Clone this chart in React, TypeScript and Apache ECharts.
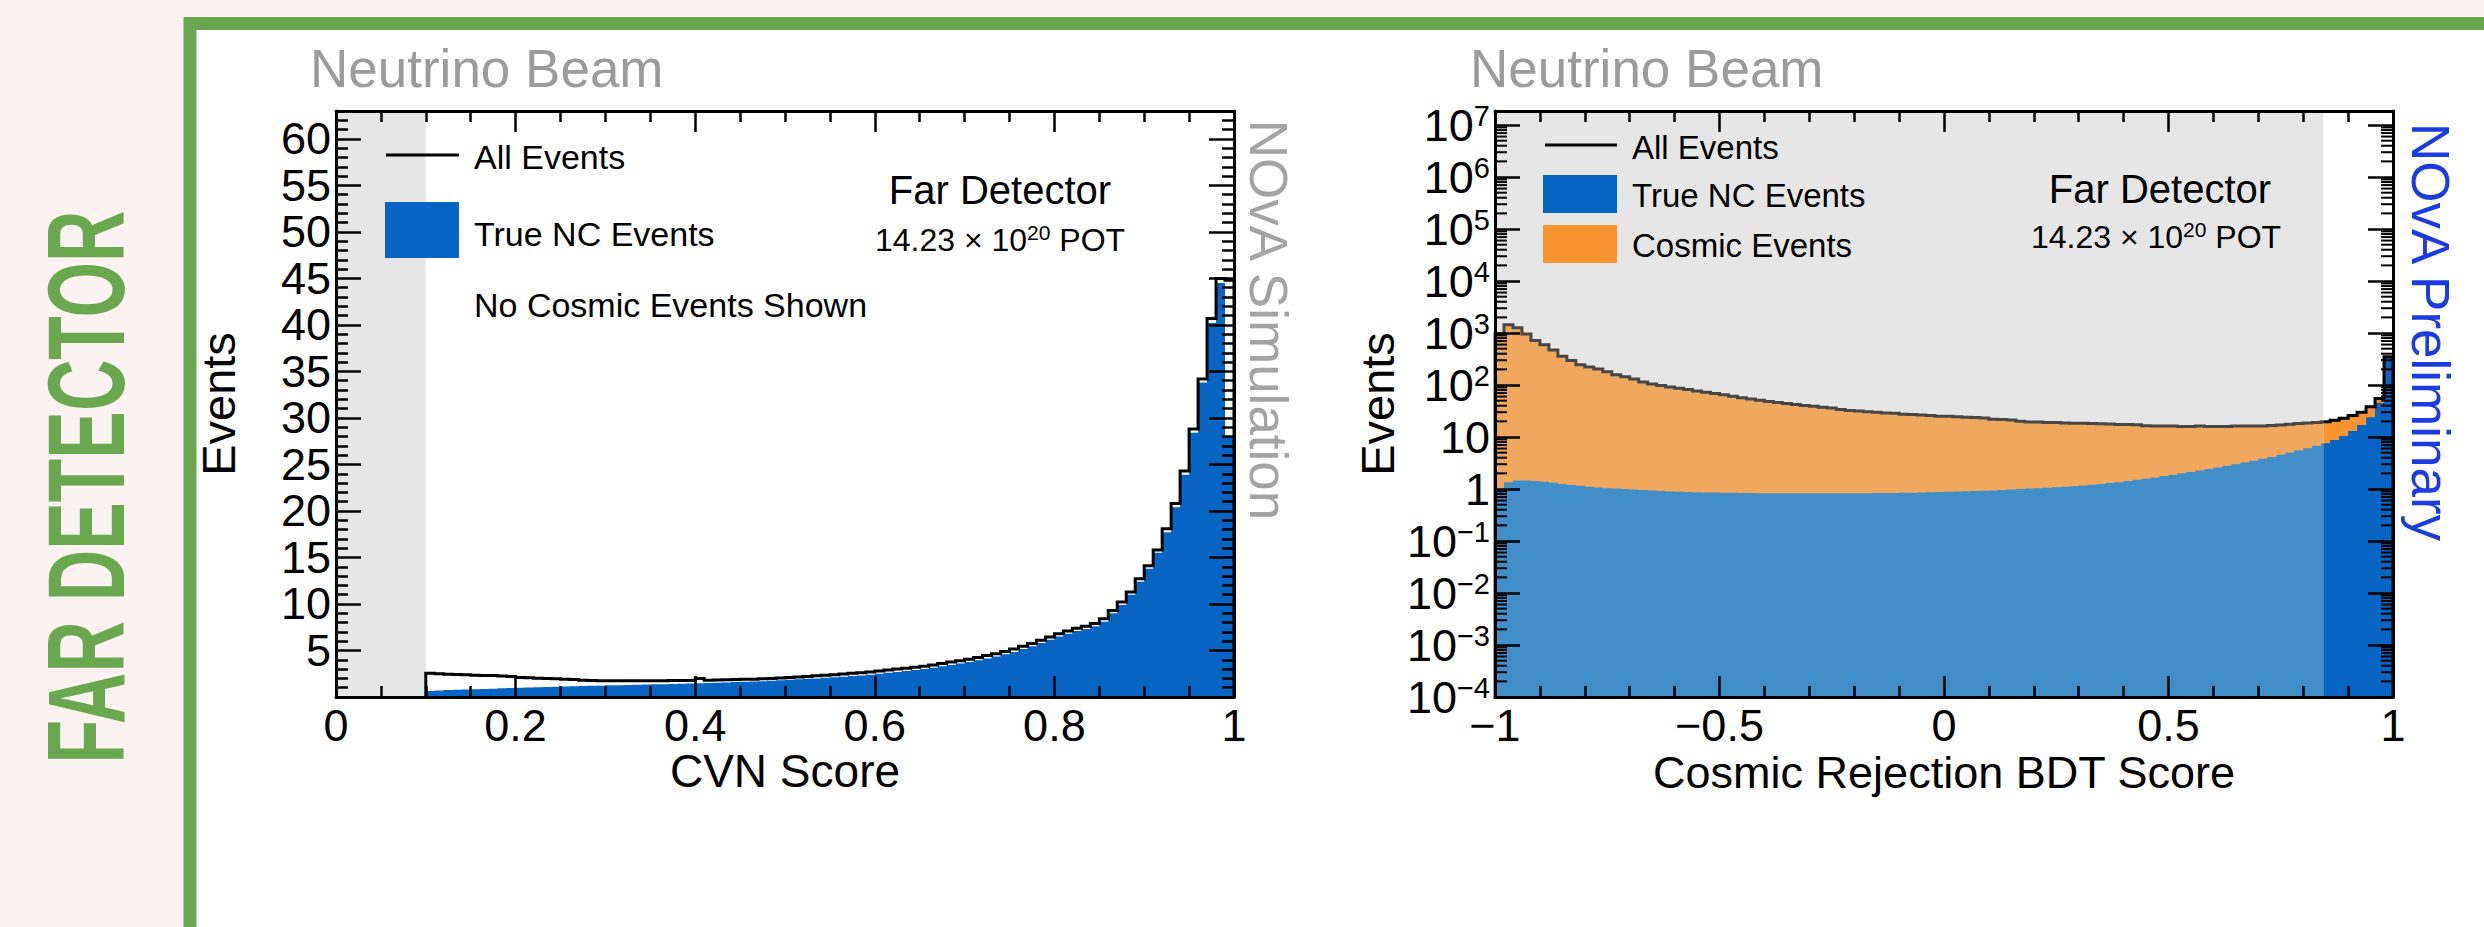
import React, { useEffect, useRef } from 'react';
import * as echarts from 'echarts';

const FONT = '"Liberation Sans", Arial, Helvetica, sans-serif';

// ---------------- Left panel: CVN score (linear y) ----------------
const cvnBinStart = 0.1;
const cvnBinWidth = 0.01;
const cvnCutEnd = 0.1; // grey (removed) region 0 - 0.1
const cvnYMax = 63;
const cvnXTickInterval = 0.2;
const cvnYTickInterval = 5;
// bins 0.10 ... 0.99
const cvnAllEvents = [
  2.55, 2.5, 2.45, 2.42, 2.4, 2.35, 2.32, 2.3, 2.25, 2.2,
  2.1, 2.06, 2.02, 2.0, 1.96, 1.92, 1.88, 1.8, 1.78, 1.76,
  1.75, 1.75, 1.74, 1.75, 1.75, 1.76, 1.76, 1.77, 1.78, 1.78,
  1.98, 1.8, 1.82, 1.86, 1.88, 1.9, 1.92, 1.95, 1.98, 2.05,
  2.1, 2.15, 2.2, 2.28, 2.35, 2.4, 2.48, 2.55, 2.62, 2.7,
  2.8, 2.9, 3.0, 3.1, 3.2, 3.3, 3.45, 3.6, 3.75, 3.9,
  4.05, 4.25, 4.45, 4.65, 4.9, 5.15, 5.45, 5.75, 6.1, 6.45,
  6.8, 7.1, 7.4, 7.6, 7.9, 8.4, 9.3, 10.2, 11.3, 12.7,
  14.1, 15.8, 18.1, 20.8, 24.3, 28.8, 34.2, 40.7, 45.0, 44.8,
];
const cvnTrueNC = [
  0.65, 0.7, 0.75, 0.78, 0.8, 0.83, 0.86, 0.9, 0.93, 0.96,
  1.0, 1.03, 1.05, 1.08, 1.1, 1.12, 1.15, 1.18, 1.2, 1.22,
  1.25, 1.27, 1.3, 1.32, 1.34, 1.36, 1.38, 1.4, 1.42, 1.44,
  1.47, 1.5, 1.53, 1.56, 1.6, 1.63, 1.66, 1.7, 1.74, 1.8,
  1.85, 1.9, 1.95, 2.0, 2.06, 2.12, 2.18, 2.25, 2.32, 2.4,
  2.5, 2.6, 2.7, 2.8, 2.9, 3.0, 3.15, 3.3, 3.45, 3.6,
  3.75, 3.95, 4.15, 4.35, 4.6, 4.85, 5.15, 5.45, 5.8, 6.15,
  6.5, 6.8, 7.1, 7.3, 7.6, 8.1, 9.0, 9.9, 11.0, 12.4,
  13.8, 15.5, 17.7, 20.4, 23.9, 28.4, 33.8, 40.2, 44.5, 28,
];

// ---------------- Right panel: cosmic rejection BDT (log y) ----------------
const bdtBinStart = -1;
const bdtBinWidth = 0.02;
const bdtCut = 0.845; // grey region -1 ... cut
const bdtYMinExp = -4;
const bdtYMaxExp = 7.27;
const bdtXTickInterval = 0.5;
const logMinorMultipliers = [2, 3, 4, 5, 6, 7, 8, 9];
// bins -1.00 ... 0.98
const bdtAllEvents = [
  960, 1440, 1260, 960, 720, 595, 474, 359, 297, 246,
  222, 203, 179, 158, 144, 131, 114, 105, 98, 92,
  87, 82, 77, 73, 69, 65, 61, 57, 54, 51,
  48, 46, 44, 42, 40.5, 39, 37.5, 36, 34, 32.5,
  31.5, 30.5, 29.8, 29, 28.5, 27.5, 27, 26.5, 25.8, 25.2,
  25, 24.5, 24, 23.7, 23.3, 22, 21.7, 21.2, 20, 19.5,
  19.5, 19, 19, 18.7, 18.5, 18.4, 18.2, 18, 17.7, 17.5,
  17.5, 17.2, 16.5, 16.2, 16.2, 16.2, 16.0, 16.0, 16.2, 16.0,
  16.0, 16.0, 16.2, 16.2, 16.2, 16.3, 16.6, 17.0, 17.6, 18.2,
  18.6, 19.0, 19.6, 21, 23, 26, 30, 38, 55, 350,
];
const bdtTrueNC = [
  1.0, 1.35, 1.45, 1.45, 1.42, 1.38, 1.32, 1.25, 1.2, 1.15,
  1.1, 1.07, 1.04, 1.02, 1.0, 0.98, 0.96, 0.94, 0.92, 0.9,
  0.89, 0.88, 0.87, 0.86, 0.86, 0.85, 0.85, 0.84, 0.84, 0.83,
  0.83, 0.83, 0.83, 0.83, 0.83, 0.83, 0.83, 0.83, 0.83, 0.83,
  0.83, 0.83, 0.84, 0.84, 0.84, 0.85, 0.85, 0.86, 0.87, 0.88,
  0.89, 0.9, 0.91, 0.92, 0.93, 0.94, 0.96, 0.98, 1.0, 1.02,
  1.04, 1.06, 1.08, 1.1, 1.13, 1.17, 1.21, 1.25, 1.3, 1.35,
  1.42, 1.5, 1.58, 1.67, 1.77, 1.88, 2.0, 2.13, 2.27, 2.42,
  2.6, 2.8, 3.0, 3.25, 3.5, 3.8, 4.15, 4.55, 5.0, 5.5,
  6.1, 6.8, 7.6, 8.8, 10.5, 13, 17, 24, 45, 340,
];

// ---------------- styling ----------------
const GREEN = '#6aa84f';
const BLUE = '#0865c4';
const BLUE_BAND = '#428ec8';
const ORANGE = '#f79430';
const ORANGE_BAND = '#f0a85e';
const LINE_BAND = '#474747';
const BAND = '#e6e6e6';
const PAGE_BG = '#fcf2f2';
const LABEL_SIZE = 45;

function stepPath(P: any, start: number, w: number, vals: number[], tf: (v: number) => number, from: number, to: number) {
  const pts: number[][] = [];
  for (let i = 0; i < vals.length; i++) {
    const a = Math.max(start + i * w, from);
    const b = Math.min(start + (i + 1) * w, to);
    if (b - a <= 1e-9) continue;
    const y = tf(vals[i]);
    pts.push(P(a, y), P(b, y));
  }
  return pts;
}

const ident = (v: number) => v;
const lg = (v: number) => Math.log10(v);

function leftRender(_p: any, api: any) {
  const P = (x: number, y: number) => api.coord([x, y]);
  const end = cvnBinStart + cvnBinWidth * cvnAllEvents.length;
  const children: any[] = [];
  const tl = P(0, cvnYMax);
  const br = P(cvnCutEnd, 0);
  children.push({ type: 'rect', shape: { x: tl[0], y: tl[1], width: br[0] - tl[0], height: br[1] - tl[1] }, style: { fill: BAND } });
  const nc = [P(cvnBinStart, 0), ...stepPath(P, cvnBinStart, cvnBinWidth, cvnTrueNC, ident, cvnBinStart, end), P(end, 0)];
  children.push({ type: 'polygon', shape: { points: nc }, style: { fill: BLUE } });
  const all = [P(cvnBinStart, 0), ...stepPath(P, cvnBinStart, cvnBinWidth, cvnAllEvents, ident, cvnBinStart, end), P(end, 0)];
  children.push({ type: 'polyline', shape: { points: all }, style: { stroke: '#000', lineWidth: 3, fill: null, lineJoin: 'miter' } });
  return { type: 'group', children };
}

function rightRender(_p: any, api: any) {
  const P = (x: number, y: number) => api.coord([x, y]);
  const base = bdtYMinExp;
  const end = bdtBinStart + bdtBinWidth * bdtAllEvents.length;
  const children: any[] = [];
  const tl = P(bdtBinStart, bdtYMaxExp);
  const br = P(bdtCut, base);
  children.push({ type: 'rect', shape: { x: tl[0], y: tl[1], width: br[0] - tl[0], height: br[1] - tl[1] }, style: { fill: BAND } });
  const regions = [
    { from: bdtBinStart, to: bdtCut, orange: ORANGE_BAND, blue: BLUE_BAND },
    { from: bdtCut, to: end, orange: ORANGE, blue: BLUE },
  ];
  for (const r of regions) {
    const pts = [P(r.from, base), ...stepPath(P, bdtBinStart, bdtBinWidth, bdtAllEvents, lg, r.from, r.to), P(r.to, base)];
    children.push({ type: 'polygon', shape: { points: pts }, style: { fill: r.orange } });
  }
  for (const r of regions) {
    const pts = [P(r.from, base), ...stepPath(P, bdtBinStart, bdtBinWidth, bdtTrueNC, lg, r.from, r.to), P(r.to, base)];
    children.push({ type: 'polygon', shape: { points: pts }, style: { fill: r.blue } });
  }
  const lineIn = [P(bdtBinStart, base), ...stepPath(P, bdtBinStart, bdtBinWidth, bdtAllEvents, lg, bdtBinStart, bdtCut)];
  const lineOut = [...stepPath(P, bdtBinStart, bdtBinWidth, bdtAllEvents, lg, bdtCut, end), P(end, base)];
  children.push({ type: 'polyline', shape: { points: lineIn }, style: { stroke: LINE_BAND, lineWidth: 3, fill: null } });
  children.push({ type: 'polyline', shape: { points: lineOut }, style: { stroke: '#000', lineWidth: 3, fill: null } });
  return { type: 'group', children };
}

function logMinorRender(_p: any, api: any) {
  const children: any[] = [];
  const xl = api.coord([-1, 0])[0];
  const xr = api.coord([1, 0])[0];
  for (let n = bdtYMinExp; n < Math.ceil(bdtYMaxExp); n++) {
    for (const k of logMinorMultipliers) {
      const e = n + Math.log10(k);
      if (e >= bdtYMaxExp) continue;
      const y = api.coord([0, e])[1];
      children.push({ type: 'line', shape: { x1: xl, y1: y, x2: xl + 12, y2: y }, style: { stroke: '#000', lineWidth: 2 } });
      children.push({ type: 'line', shape: { x1: xr, y1: y, x2: xr - 12, y2: y }, style: { stroke: '#000', lineWidth: 2 } });
    }
  }
  return { type: 'group', children };
}

const axisLine = { show: true, onZero: false, lineStyle: { color: '#000', width: 3 } };
const tickStyle = { color: '#000', width: 2.5 };

function xAxisCfg(grid: number, pos: 'top' | 'bottom', min: number, max: number, interval: number, minorSplit: number, formatter: any) {
  return {
    type: 'value', gridIndex: grid, position: pos, min, max, interval, z: 10,
    axisLine,
    axisTick: { show: true, inside: true, length: 21, lineStyle: tickStyle },
    minorTick: { show: true, splitNumber: minorSplit, length: 11, lineStyle: tickStyle },
    splitLine: { show: false },
    minorSplitLine: { show: false },
    axisLabel: pos === 'bottom'
      ? { show: true, margin: 7, fontSize: LABEL_SIZE, lineHeight: 42, fontFamily: FONT, color: '#000', formatter }
      : { show: false },
    axisPointer: { show: false },
  };
}

function txt(text: string, x: number, y: number, size: number, o: any = {}) {
  return {
    type: 'text', x, y, z: 50, silent: true,
    rotation: o.rotation || 0,
    scaleX: o.scaleX || 1,
    style: {
      text, fill: o.color || '#000', fontSize: size, fontFamily: FONT,
      fontWeight: o.weight || 'normal', align: o.align || 'left', verticalAlign: 'middle',
      rich: o.rich,
    },
  };
}

const potRich = {
  n: { fontSize: 32, fontFamily: FONT, color: '#000', lineHeight: 36 },
  s: { fontSize: 21, fontFamily: FONT, color: '#000', lineHeight: 22, verticalAlign: 'top' },
};
const POT_TEXT = '{n|14.23 × 10}{s|20}{n| POT}';

function buildOption(farScale: number) {
  const PLOT_TOP = 111;
  const PLOT_H = 586;
  const grids = [
    { left: 336, top: PLOT_TOP, width: 898, height: PLOT_H, outerBoundsMode: 'none', containLabel: false },
    { left: 1495, top: PLOT_TOP, width: 898, height: PLOT_H, outerBoundsMode: 'none', containLabel: false },
  ];
  const cvnFmt = (v: number) => String(Math.round(v * 10) / 10);
  const bdtFmt = (v: number) => { const r = Math.round(v * 10) / 10; return r < 0 ? '−' + String(-r) : String(r); };

  const yLeft = (pos: 'left' | 'right') => ({
    type: 'value', gridIndex: 0, position: pos, min: 0, max: cvnYMax, interval: cvnYTickInterval, z: 10,
    axisLine,
    axisTick: { show: true, inside: true, length: 25, lineStyle: tickStyle },
    minorTick: { show: true, splitNumber: 5, length: 12, lineStyle: tickStyle },
    splitLine: { show: false }, minorSplitLine: { show: false },
    axisLabel: pos === 'left'
      ? { show: true, margin: 5, fontSize: LABEL_SIZE, lineHeight: 40, fontFamily: FONT, color: '#000',
          formatter: (v: number) => (v > 0 && Math.abs(v % cvnYTickInterval) < 1e-6 ? String(v) : '') }
      : { show: false },
  });
  const yRight = (pos: 'left' | 'right') => ({
    type: 'value', gridIndex: 1, position: pos, min: bdtYMinExp, max: bdtYMaxExp, interval: 1, z: 10,
    axisLine,
    axisTick: { show: true, inside: true, length: 25, lineStyle: tickStyle },
    splitLine: { show: false },
    axisLabel: pos === 'left'
      ? {
          show: true, margin: 5, fontFamily: FONT, color: '#000',
          formatter: (v: number) => {
            const e = Math.round(v);
            if (Math.abs(v - e) > 1e-6) return '';
            if (e === 0) return '{b|1}';
            if (e === 1) return '{b|10}';
            return '{b|10}{s|' + (e < 0 ? '−' + -e : String(e)) + '}';
          },
          rich: {
            b: { fontSize: LABEL_SIZE, fontFamily: FONT, color: '#000', lineHeight: 48 },
            s: { fontSize: 29, fontFamily: FONT, color: '#000', lineHeight: 26, verticalAlign: 'top' },
          },
        }
      : { show: false },
  });

  return {
    animation: false,
    backgroundColor: PAGE_BG,
    grid: grids,
    xAxis: [
      xAxisCfg(0, 'bottom', 0, 1, cvnXTickInterval, 4, cvnFmt),
      xAxisCfg(0, 'top', 0, 1, cvnXTickInterval, 4, cvnFmt),
      xAxisCfg(1, 'bottom', -1, 1, bdtXTickInterval, 5, bdtFmt),
      xAxisCfg(1, 'top', -1, 1, bdtXTickInterval, 5, bdtFmt),
    ],
    yAxis: [yLeft('left'), yLeft('right'), yRight('left'), yRight('right')],
    series: [
      { type: 'custom', name: 'CVN histograms', xAxisIndex: 0, yAxisIndex: 0, data: [[0.5, 1]], renderItem: leftRender, z: 2, silent: true },
      { type: 'custom', name: 'BDT histograms', xAxisIndex: 2, yAxisIndex: 2, data: [[0, 0]], renderItem: rightRender, z: 2, silent: true },
      { type: 'custom', name: 'log minor ticks', xAxisIndex: 2, yAxisIndex: 2, data: [[0, 0]], renderItem: logMinorRender, z: 11, silent: true },
    ],
    graphic: {
      elements: [
        { type: 'rect', z: 0, silent: true, shape: { x: 190, y: 23.5, width: 2400, height: 1000 }, style: { fill: '#ffffff', stroke: GREEN, lineWidth: 13 } },
        txt('FAR DETECTOR', 86, 487, 110, { rotation: Math.PI / 2, scaleX: farScale, color: GREEN, weight: 'bold', align: 'center' }),

        // left panel
        txt('Neutrino Beam', 310, 68, 53, { color: '#9b9b9b' }),
        { type: 'line', z: 50, silent: true, shape: { x1: 386, y1: 155, x2: 459, y2: 155 }, style: { stroke: '#000', lineWidth: 3 } },
        txt('All Events', 474, 157, 34),
        { type: 'rect', z: 50, silent: true, shape: { x: 385, y: 202, width: 74, height: 56 }, style: { fill: BLUE } },
        txt('True NC Events', 474, 234, 34),
        txt('No Cosmic Events Shown', 474, 305, 34),
        txt('Far Detector', 1000, 190, 40, { align: 'center' }),
        txt(POT_TEXT, 1000, 240, 32, { align: 'center', rich: potRich }),
        txt('NOvA Simulation', 1268, 320, 53, { rotation: -Math.PI / 2, color: '#a3a3a3', align: 'center' }),
        txt('Events', 218, 404, 47, { rotation: Math.PI / 2, align: 'center' }),
        txt('CVN Score', 785, 771, 46, { align: 'center' }),

        // right panel
        txt('Neutrino Beam', 1470, 68, 53, { color: '#9b9b9b' }),
        { type: 'line', z: 50, silent: true, shape: { x1: 1545, y1: 145, x2: 1617, y2: 145 }, style: { stroke: '#000', lineWidth: 3 } },
        txt('All Events', 1632, 147, 33),
        { type: 'rect', z: 50, silent: true, shape: { x: 1543, y: 175, width: 74, height: 38 }, style: { fill: BLUE } },
        txt('True NC Events', 1632, 195, 33),
        { type: 'rect', z: 50, silent: true, shape: { x: 1543, y: 225, width: 74, height: 38 }, style: { fill: ORANGE } },
        txt('Cosmic Events', 1632, 245, 33),
        txt('Far Detector', 2160, 189, 40, { align: 'center' }),
        txt(POT_TEXT, 2156, 237, 32, { align: 'center', rich: potRich }),
        txt('NOvA Preliminary', 2430, 332, 53, { rotation: -Math.PI / 2, color: '#1d3ce0', align: 'center' }),
        txt('Events', 1377, 404, 47, { rotation: Math.PI / 2, align: 'center' }),
        txt('Cosmic Rejection BDT Score', 1944, 772, 45, { align: 'center' }),
      ],
    },
  };
}

export default function App() {
  const ref = useRef<HTMLDivElement>(null);
  useEffect(() => {
    if (!ref.current) return;
    let farScale = 0.6;
    try {
      const ctx = document.createElement('canvas').getContext('2d');
      if (ctx) {
        ctx.font = 'bold 110px "Liberation Sans", Arial, sans-serif';
        const w = ctx.measureText('FAR DETECTOR').width;
        if (w > 0) farScale = 553 / w;
      }
    } catch (e) { /* ignore */ }
    const chart = echarts.init(ref.current, null, { renderer: 'svg' });
    chart.setOption(buildOption(farScale) as any);
    return () => chart.dispose();
  }, []);
  return <div ref={ref} style={{ position: 'fixed', left: 0, top: 0, width: 2484, height: 927 }} />;
}
